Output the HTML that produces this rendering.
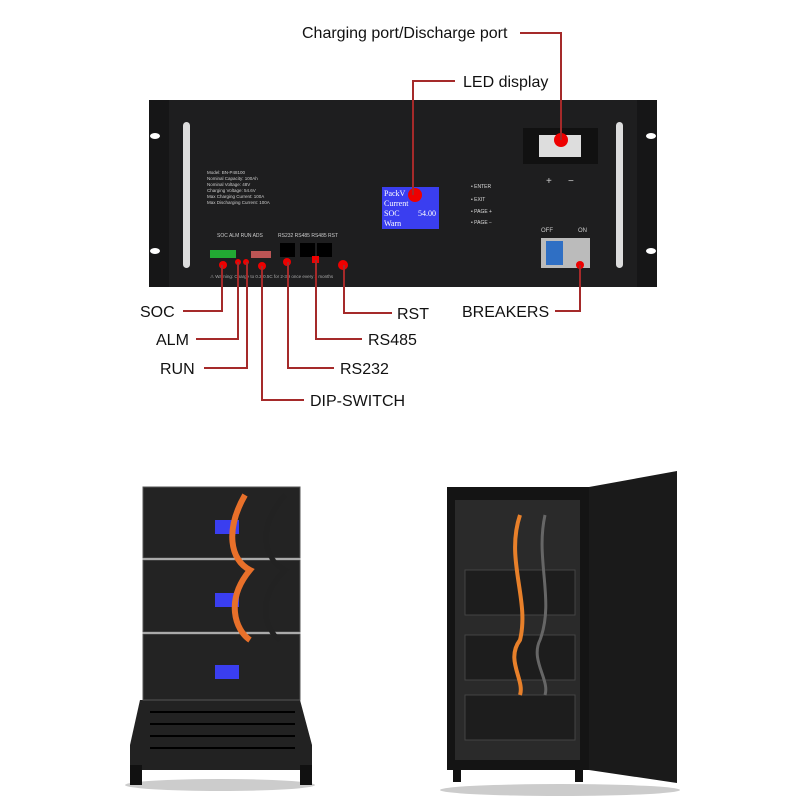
<!DOCTYPE html>
<html><head><style>html,body{margin:0;padding:0;background:#fff}svg{display:block}</style></head><body>
<svg width="800" height="800" viewBox="0 0 800 800" xmlns="http://www.w3.org/2000/svg" font-family="Liberation Sans, sans-serif">
<rect width="800" height="800" fill="#fff"/>
<!-- main panel -->
<rect x="149" y="100" width="508" height="187" rx="3" fill="#1e1e1f"/>
<rect x="149" y="100" width="20" height="187" fill="#161617"/>
<rect x="637" y="100" width="20" height="187" fill="#161617"/>
<ellipse cx="155" cy="136" rx="5" ry="3" fill="#fff"/><ellipse cx="155" cy="251" rx="5" ry="3" fill="#fff"/>
<ellipse cx="651" cy="136" rx="5" ry="3" fill="#fff"/><ellipse cx="651" cy="251" rx="5" ry="3" fill="#fff"/>
<rect x="183" y="122" width="7" height="146" rx="3.5" fill="#ddd"/>
<rect x="616" y="122" width="7" height="146" rx="3.5" fill="#ddd"/>
<g fill="#ccc" font-size="4.5"><text x="207" y="174">Model: BN-P48100</text><text x="207" y="180">Nominal Capacity: 100Ah</text><text x="207" y="186">Nominal Voltage: 48V</text><text x="207" y="192">Charging Voltage: 54.6V</text><text x="207" y="198">Max Charging Current: 100A</text><text x="207" y="204">Max Discharging Current: 100A</text></g>
<rect x="382" y="187" width="57" height="42" fill="#3a3ef0"/>
<g fill="#fff" font-size="8" font-family="Liberation Serif, serif"><text x="384" y="196">PackV</text><text x="384" y="206">Current</text><text x="384" y="216">SOC</text><text x="384" y="226">Warn</text><text x="418" y="216">54.00</text></g>
<g fill="#ddd" font-size="5"><text x="471" y="188">• ENTER</text><text x="471" y="201">• EXIT</text><text x="471" y="213">• PAGE +</text><text x="471" y="224">• PAGE −</text></g>
<rect x="523" y="128" width="75" height="36" fill="#111"/>
<rect x="539" y="135" width="42" height="22" fill="#ddd"/>
<text x="546" y="184" fill="#ccc" font-size="10">+</text><text x="568" y="184" fill="#ccc" font-size="10">−</text>
<text x="541" y="232" fill="#ccc" font-size="6">OFF</text><text x="578" y="232" fill="#ccc" font-size="6">ON</text>
<rect x="541" y="238" width="49" height="30" fill="#bbb"/><rect x="546" y="241" width="17" height="24" fill="#2f6fc4"/>
<g fill="#ccc" font-size="5"><text x="217" y="237">SOC  ALM RUN  ADS</text><text x="278" y="237">RS232   RS485  RS485   RST</text></g>
<rect x="210" y="250" width="26" height="8" fill="#2a3"/><rect x="251" y="251" width="20" height="7" fill="#b55"/>
<rect x="280" y="243" width="15" height="14" fill="#000"/><rect x="300" y="243" width="15" height="14" fill="#000"/><rect x="317" y="243" width="15" height="14" fill="#000"/>
<text x="210" y="278" fill="#aaa" font-size="4.5">⚠ Warning: Charge to 0.2-0.5C for 2-3H once every 3 months</text>
<!-- markers -->
<g fill="#e00"><circle cx="561" cy="140" r="7"/><circle cx="415" cy="195" r="7"/><circle cx="223" cy="265" r="4"/><circle cx="238" cy="262" r="3"/><circle cx="246" cy="262" r="3"/><circle cx="262" cy="266" r="4"/><circle cx="287" cy="262" r="4"/><rect x="312" y="256" width="7" height="7"/><circle cx="343" cy="265" r="5"/><circle cx="580" cy="265" r="4"/></g>
<!-- connectors -->
<g fill="none" stroke="#a52a2a" stroke-width="2">
<polyline points="520,33 561,33 561,140"/><polyline points="455,81 413,81 413,195"/>
<polyline points="183,311 222,311 222,265"/><polyline points="196,339 238,339 238,262"/><polyline points="204,368 247,368 247,262"/>
<polyline points="304,400 262,400 262,266"/><polyline points="334,368 288,368 288,262"/><polyline points="362,339 316,339 316,260"/>
<polyline points="392,313 344,313 344,265"/><polyline points="555,311 580,311 580,265"/></g>
<g fill="#111" font-size="16"><text x="302" y="38">Charging port/Discharge port</text><text x="463" y="87">LED display</text>
<text x="140" y="317">SOC</text><text x="156" y="345">ALM</text><text x="160" y="374">RUN</text><text x="310" y="406">DIP-SWITCH</text>
<text x="340" y="374">RS232</text><text x="368" y="345">RS485</text><text x="397" y="319">RST</text><text x="462" y="317">BREAKERS</text></g>
<!-- left stack -->
<ellipse cx="220" cy="785" rx="95" ry="6" fill="#ccc"/>
<path d="M140 700 L300 700 L312 745 L312 770 L130 770 L130 745 Z" fill="#222"/>
<g stroke="#000" stroke-width="2"><line x1="150" y1="712" x2="295" y2="712"/><line x1="150" y1="724" x2="295" y2="724"/><line x1="150" y1="736" x2="295" y2="736"/><line x1="150" y1="748" x2="295" y2="748"/></g>
<rect x="130" y="765" width="12" height="20" fill="#111"/><rect x="300" y="765" width="12" height="20" fill="#111"/>
<g fill="#232323" stroke="#555" stroke-width="1"><rect x="143" y="487" width="157" height="71"/><rect x="143" y="560" width="157" height="72"/><rect x="143" y="634" width="157" height="66"/></g>
<g fill="#3a3ef0"><rect x="215" y="520" width="24" height="14"/><rect x="215" y="593" width="24" height="14"/><rect x="215" y="665" width="24" height="14"/></g>
<path d="M245 495 C225 530 230 560 250 570 C225 600 235 630 250 640" stroke="#e8702a" stroke-width="6" fill="none"/>
<path d="M285 495 C255 530 265 560 285 570 C255 600 265 630 280 640" stroke="#222" stroke-width="5" fill="none"/>
<!-- cabinet -->
<ellipse cx="560" cy="790" rx="120" ry="6" fill="#ccc"/>
<rect x="447" y="487" width="142" height="283" fill="#141414"/>
<rect x="455" y="500" width="125" height="260" fill="#2a2a2a"/>
<g fill="#1d1d1d" stroke="#444"><rect x="465" y="570" width="110" height="45"/><rect x="465" y="635" width="110" height="45"/><rect x="465" y="695" width="110" height="45"/></g>
<path d="M520 515 C505 560 530 600 520 640 C505 660 525 680 520 695" stroke="#e8802a" stroke-width="4" fill="none"/>
<path d="M545 515 C535 560 555 600 540 640 C530 660 550 680 545 695" stroke="#666" stroke-width="3" fill="none"/>
<path d="M589 487 L677 471 L677 783 L589 770 Z" fill="#1a1a1a"/>
<rect x="453" y="770" width="8" height="12" fill="#111"/><rect x="575" y="770" width="8" height="12" fill="#111"/>
</svg>
</body></html>
